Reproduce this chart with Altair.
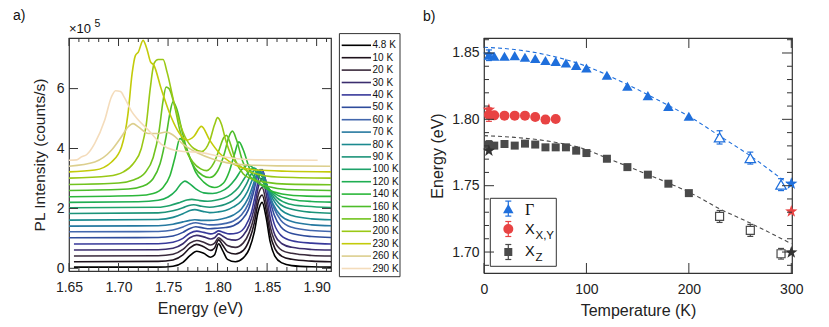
import altair as alt
import pandas as pd

# ---------------- panel a) : PL spectra ----------------
temps = ["4.8 K", "10 K", "20 K", "30 K", "40 K", "50 K", "60 K", "70 K", "80 K", "90 K",
         "100 K", "120 K", "140 K", "160 K", "180 K", "200 K", "230 K", "260 K", "290 K"]
line_colors = ["#000000", "#1e121c", "#3a2a3c", "#3b2d6e", "#38399a", "#2f4c9c", "#4267ad",
               "#2679a0", "#1b8a8f", "#1c9379", "#1ea26a", "#1fae52", "#2cb73a", "#4dbd2a",
               "#72c31e", "#9ac815", "#c3cb0a", "#dccf8e", "#f4dcbb"]

# (energy eV, PL intensity x1e5), offsets included
sp_4p8 = [[1.655, 0.04], [1.74, 0.04], [1.755, 0.07], [1.765, 0.2], [1.772, 0.42], [1.779, 0.57],
          [1.786, 0.5], [1.793, 0.37], [1.797, 0.45], [1.801, 0.82], [1.805, 0.6], [1.81, 0.3],
          [1.818, 0.22], [1.826, 0.35], [1.832, 0.65], [1.837, 1.2], [1.841, 1.9], [1.845, 2.2],
          [1.849, 1.7], [1.853, 0.9], [1.858, 0.4], [1.865, 0.18], [1.875, 0.09], [1.895, 0.05],
          [1.915, 0.04]]
sp_10 = [[1.655, 0.22], [1.74, 0.23], [1.755, 0.28], [1.765, 0.45], [1.772, 0.68], [1.779, 0.8],
         [1.786, 0.72], [1.793, 0.6], [1.797, 0.68], [1.801, 0.95], [1.805, 0.78], [1.81, 0.55],
         [1.818, 0.48], [1.826, 0.6], [1.832, 0.95], [1.837, 1.5], [1.841, 2.2], [1.845, 2.45],
         [1.849, 1.95], [1.853, 1.15], [1.858, 0.65], [1.865, 0.4], [1.875, 0.3], [1.895, 0.24],
         [1.915, 0.22]]
sp_20 = [[1.655, 0.41], [1.74, 0.42], [1.755, 0.47], [1.765, 0.63], [1.772, 0.84], [1.779, 0.93],
         [1.786, 0.87], [1.793, 0.78], [1.797, 0.84], [1.801, 1.02], [1.805, 0.92], [1.81, 0.76],
         [1.818, 0.7], [1.826, 0.85], [1.832, 1.2], [1.837, 1.75], [1.841, 2.45], [1.845, 2.7],
         [1.849, 2.2], [1.853, 1.4], [1.858, 0.88], [1.865, 0.6], [1.875, 0.5], [1.895, 0.43],
         [1.915, 0.41]]
sp_30 = [[1.655, 0.61], [1.74, 0.62], [1.755, 0.67], [1.765, 0.82], [1.772, 1.02], [1.779, 1.1],
         [1.786, 1.05], [1.793, 0.98], [1.797, 1.02], [1.801, 1.15], [1.805, 1.08], [1.81, 0.98],
         [1.818, 0.94], [1.826, 1.1], [1.832, 1.45], [1.837, 2.0], [1.841, 2.7], [1.845, 3.0],
         [1.849, 2.5], [1.853, 1.7], [1.858, 1.1], [1.865, 0.82], [1.875, 0.7], [1.895, 0.63],
         [1.915, 0.61]]
sp_40 = [[1.655, 0.81], [1.74, 0.82], [1.755, 0.87], [1.765, 1.0], [1.772, 1.17], [1.779, 1.24],
         [1.786, 1.2], [1.793, 1.15], [1.797, 1.18], [1.801, 1.25], [1.806, 1.2], [1.812, 1.15],
         [1.82, 1.18], [1.828, 1.4], [1.834, 1.85], [1.839, 2.6], [1.843, 3.2], [1.845, 3.3],
         [1.848, 3.0], [1.852, 2.2], [1.857, 1.5], [1.864, 1.1], [1.875, 0.92], [1.895, 0.84],
         [1.915, 0.81]]
sp_50 = [[1.65, 1.02], [1.74, 1.03], [1.755, 1.08], [1.765, 1.2], [1.772, 1.33], [1.778, 1.39],
         [1.785, 1.35], [1.792, 1.32], [1.8, 1.34], [1.808, 1.36], [1.816, 1.42], [1.824, 1.6],
         [1.831, 1.95], [1.836, 2.5], [1.84, 3.05], [1.844, 3.3], [1.848, 3.0], [1.852, 2.4],
         [1.857, 1.8], [1.864, 1.38], [1.875, 1.16], [1.895, 1.06], [1.915, 1.03]]
sp_60 = [[1.65, 1.22], [1.74, 1.23], [1.755, 1.28], [1.765, 1.38], [1.772, 1.48], [1.778, 1.52],
         [1.785, 1.48], [1.792, 1.45], [1.8, 1.46], [1.808, 1.5], [1.816, 1.58], [1.824, 1.78],
         [1.831, 2.15], [1.836, 2.65], [1.84, 3.1], [1.843, 3.3], [1.847, 3.1], [1.851, 2.6],
         [1.857, 2.0], [1.864, 1.6], [1.875, 1.37], [1.895, 1.26], [1.915, 1.23]]
sp_70 = [[1.65, 1.41], [1.74, 1.42], [1.755, 1.47], [1.765, 1.55], [1.772, 1.6], [1.777, 1.62],
         [1.785, 1.6], [1.792, 1.6], [1.8, 1.62], [1.808, 1.68], [1.816, 1.78], [1.824, 1.98],
         [1.831, 2.35], [1.836, 2.8], [1.839, 3.1], [1.842, 3.25], [1.846, 3.1], [1.85, 2.7],
         [1.856, 2.15], [1.864, 1.75], [1.875, 1.56], [1.895, 1.45], [1.915, 1.42]]
sp_80 = [[1.65, 1.61], [1.74, 1.63], [1.755, 1.7], [1.765, 1.82], [1.772, 1.93], [1.777, 1.96],
         [1.785, 1.9], [1.792, 1.86], [1.8, 1.88], [1.808, 1.93], [1.816, 2.05], [1.824, 2.25],
         [1.83, 2.55], [1.835, 2.95], [1.838, 3.15], [1.841, 3.25], [1.845, 3.1], [1.85, 2.75],
         [1.856, 2.3], [1.864, 1.95], [1.875, 1.76], [1.895, 1.65], [1.915, 1.62]]
sp_90 = [[1.65, 1.83], [1.74, 1.85], [1.755, 1.92], [1.765, 2.02], [1.771, 2.1], [1.776, 2.12],
         [1.784, 2.07], [1.792, 2.04], [1.8, 2.07], [1.808, 2.14], [1.816, 2.27], [1.823, 2.48],
         [1.829, 2.8], [1.834, 3.15], [1.839, 3.3], [1.843, 3.2], [1.848, 2.9], [1.854, 2.5],
         [1.862, 2.17], [1.875, 1.97], [1.895, 1.87], [1.915, 1.84]]
sp_100 = [[1.65, 2.02], [1.74, 2.04], [1.752, 2.1], [1.762, 2.2], [1.769, 2.28], [1.774, 2.3],
          [1.782, 2.26], [1.79, 2.24], [1.798, 2.27], [1.806, 2.34], [1.814, 2.48], [1.821, 2.7],
          [1.827, 3.0], [1.832, 3.25], [1.837, 3.35], [1.841, 3.25], [1.846, 3.0], [1.852, 2.65],
          [1.86, 2.35], [1.872, 2.15], [1.89, 2.07], [1.915, 2.03]]
sp_120 = [[1.65, 2.2], [1.72, 2.22], [1.74, 2.27], [1.75, 2.38], [1.758, 2.6], [1.763, 2.82],
          [1.767, 2.91], [1.772, 2.82], [1.778, 2.65], [1.786, 2.52], [1.795, 2.5], [1.803, 2.56],
          [1.811, 2.72], [1.818, 2.98], [1.824, 3.28], [1.831, 3.45], [1.836, 3.35], [1.842, 3.05],
          [1.85, 2.7], [1.86, 2.45], [1.875, 2.3], [1.895, 2.23], [1.915, 2.21]]
sp_140 = [[1.65, 2.39], [1.72, 2.43], [1.735, 2.5], [1.745, 2.7], [1.752, 3.1], [1.757, 3.7],
          [1.762, 4.33], [1.767, 4.15], [1.772, 3.7], [1.778, 3.2], [1.786, 2.88], [1.797, 2.7],
          [1.806, 2.85], [1.812, 3.25], [1.817, 3.8], [1.8215, 4.22], [1.826, 3.95], [1.832, 3.35],
          [1.84, 2.9], [1.85, 2.65], [1.865, 2.48], [1.89, 2.41], [1.915, 2.4]]
sp_160 = [[1.65, 2.6], [1.71, 2.65], [1.725, 2.75], [1.735, 3.0], [1.742, 3.5], [1.748, 4.4],
          [1.752, 5.2], [1.755, 5.56], [1.759, 5.3], [1.764, 4.6], [1.77, 3.85], [1.777, 3.35],
          [1.785, 3.1], [1.792, 3.03], [1.8, 3.25], [1.807, 3.85], [1.811, 4.35], [1.815, 4.58],
          [1.819, 4.3], [1.825, 3.6], [1.832, 3.1], [1.84, 2.88], [1.852, 2.72], [1.87, 2.63],
          [1.915, 2.6]]
sp_180 = [[1.65, 2.8], [1.7, 2.85], [1.715, 2.95], [1.727, 3.2], [1.735, 3.7], [1.741, 4.6],
          [1.745, 5.6], [1.748, 6.05], [1.751, 6.0], [1.756, 5.5], [1.762, 4.6], [1.768, 3.95],
          [1.775, 3.55], [1.783, 3.32], [1.789, 3.26], [1.796, 3.5], [1.802, 4.0], [1.806, 4.35],
          [1.809, 4.44], [1.813, 4.15], [1.818, 3.6], [1.826, 3.15], [1.835, 2.98], [1.85, 2.87],
          [1.87, 2.81], [1.915, 2.79]]
sp_200 = [[1.65, 3.01], [1.69, 3.08], [1.705, 3.22], [1.715, 3.5], [1.723, 4.0], [1.728, 4.8],
          [1.732, 6.0], [1.736, 6.85], [1.74, 6.97], [1.745, 6.97], [1.749, 6.55], [1.757, 5.4],
          [1.767, 4.4], [1.776, 4.0], [1.784, 3.9], [1.792, 4.25], [1.797, 4.8], [1.8, 5.03],
          [1.804, 4.8], [1.808, 4.3], [1.814, 3.75], [1.824, 3.38], [1.84, 3.15], [1.86, 3.05],
          [1.915, 3.01]]
sp_230 = [[1.65, 3.22], [1.676, 3.28], [1.693, 3.55], [1.703, 4.05], [1.7096, 5.17], [1.7137, 6.5],
          [1.717, 7.1], [1.72, 7.22], [1.7248, 7.61], [1.729, 7.28], [1.7323, 6.89], [1.7357, 6.78],
          [1.743, 6.0], [1.753, 5.06], [1.7616, 4.5], [1.769, 4.28], [1.776, 4.4], [1.7837, 4.74],
          [1.792, 4.28], [1.802, 3.84], [1.812, 3.56], [1.822, 3.39], [1.84, 3.28], [1.87, 3.24],
          [1.915, 3.22]]
sp_260 = [[1.65, 3.41], [1.676, 3.55], [1.6928, 3.94], [1.7029, 4.39], [1.7096, 4.72],
          [1.7147, 4.83], [1.72, 4.72], [1.73, 4.5], [1.74, 4.5], [1.748, 4.55], [1.755, 4.45],
          [1.765, 4.15], [1.78, 3.85], [1.795, 3.65], [1.81, 3.52], [1.83, 3.45], [1.86, 3.42],
          [1.915, 3.41]]
sp_290 = [[1.65, 3.61], [1.658, 3.62], [1.6625, 3.72], [1.668, 3.8], [1.676, 4.17], [1.686, 4.94],
          [1.6928, 5.72], [1.697, 5.93], [1.702, 5.9], [1.706, 5.7], [1.713, 5.25], [1.72, 4.95],
          [1.73, 4.62], [1.743, 4.15], [1.7566, 3.94], [1.77, 3.89], [1.78, 3.88], [1.8, 3.75],
          [1.82, 3.66], [1.84, 3.62], [1.901, 3.61]]
spectra = [sp_4p8, sp_10, sp_20, sp_30, sp_40, sp_50, sp_60, sp_70, sp_80, sp_90, sp_100,
           sp_120, sp_140, sp_160, sp_180, sp_200, sp_230, sp_260, sp_290]

a_x_major = [1.65, 1.70, 1.75, 1.80, 1.85, 1.90]
a_x_minor = [1.66, 1.67, 1.68, 1.69, 1.71, 1.72, 1.73, 1.74, 1.76, 1.77, 1.78, 1.79,
             1.81, 1.82, 1.83, 1.84, 1.86, 1.87, 1.88, 1.89, 1.91]
a_y_major = [0, 2, 4, 6]

# ---------------- panel b) : peak energies ----------------
gam_T = [4.8, 10, 20, 30, 40, 50, 60, 70, 80, 90, 100, 120, 140, 160, 180, 200]
gam_E = [1.8483, 1.8475, 1.8475, 1.848, 1.8468, 1.8458, 1.8443, 1.8437, 1.8425, 1.8407,
         1.8387, 1.8332, 1.8249, 1.8179, 1.8098, 1.8023]
gam_open_T = [230, 260, 290]
gam_open_E = [1.7864, 1.7708, 1.7508]
gam_star_T = [4.8, 300]
gam_star_E = [1.8487, 1.7515]
gam_err_T = [4.8, 230, 260, 290]
gam_err_E = [1.8483, 1.7864, 1.7708, 1.7508]
gam_err = [0.004, 0.005, 0.0045, 0.0045]
xy_T = [4.8, 10, 20, 30, 40, 50, 60, 70]
xy_E = [1.8035, 1.803, 1.8028, 1.8028, 1.8028, 1.8017, 1.7998, 1.8002]
xy_star_T = [4.8, 300]
xy_star_E = [1.8073, 1.7306]
xy_err_T = [4.8]
xy_err_E = [1.8035]
xy_err = [0.005]
z_T = [4.8, 10, 20, 30, 40, 50, 60, 70, 80, 90, 100, 120, 140, 160, 180, 200]
z_E = [1.7809, 1.7802, 1.7814, 1.7802, 1.7817, 1.781, 1.7789, 1.7789, 1.7789, 1.7764,
       1.7746, 1.7703, 1.764, 1.7583, 1.7515, 1.7444]
z_open_T = [230, 260, 290]
z_open_E = [1.7268, 1.7163, 1.6987]
z_star_T = [4.8, 300]
z_star_E = [1.7764, 1.6997]
z_err_T = [4.8, 230, 260, 290]
z_err_E = [1.7809, 1.7268, 1.7163, 1.6987]
z_err = [0.003, 0.0045, 0.0045, 0.004]
fitG_T = [0, 30, 60, 100, 140, 180, 200, 230, 260, 290, 300]
fitG_E = [1.8543, 1.8526, 1.8488, 1.840, 1.8262, 1.8105, 1.8023, 1.7875, 1.7725, 1.7555, 1.750]
fitZ_T = [0, 30, 60, 100, 120, 140, 180, 200, 230, 260, 300]
fitZ_E = [1.7877, 1.7864, 1.7839, 1.7771, 1.7708, 1.7646, 1.752, 1.7452, 1.7326, 1.7218, 1.7063]
b_x_major = [0, 100, 200, 300]
b_y_major = [1.70, 1.75, 1.80, 1.85]
b_y_minor = [1.69, 1.71, 1.72, 1.73, 1.74, 1.76, 1.77, 1.78, 1.79, 1.81, 1.82, 1.83, 1.84, 1.86]

FONT = "Liberation Sans"
BLUE, RED, GRAY = "#1f6fdc", "#e84343", "#4a4a4a"
TICK = "#333333"
STAR = ("M0,-1L0.235,-0.324L0.951,-0.309L0.38,0.124L0.588,0.809L0,0.4L-0.588,0.809"
        "L-0.38,0.124L-0.951,-0.309L-0.235,-0.324Z")

# ======================= panel a =======================
WA, HA = 262, 233
XA0, XA1 = 1.65, 1.9145
YA0, YA1 = -0.09, 7.69
pxa = (XA1 - XA0) / WA   # eV per pixel
pya = (YA1 - YA0) / HA   # intensity units per pixel

rows = []
for lab, pts in zip(temps, spectra):
    for e, v in pts:
        rows.append({"T": lab, "E": e, "I": v})
df_spec = pd.DataFrame(rows)

xa_scale = alt.Scale(domain=[XA0, XA1], nice=False, zero=False)
ya_scale = alt.Scale(domain=[YA0, YA1], nice=False, zero=False)
col_a = alt.Scale(domain=temps, range=line_colors)
xa_axis = alt.Axis(values=a_x_major, format=".2f", title="Energy (eV)", labelFontSize=14,
                   titleFontSize=16, labelPadding=9, titlePadding=6, labelFlush=False)
ya_axis = alt.Axis(values=a_y_major, format="d", title="PL Intensity (counts/s)",
                   labelFontSize=14, titleFontSize=15.5, labelPadding=5, titlePadding=9)


def ax(f):
    return alt.X(f, type="quantitative", scale=xa_scale, axis=xa_axis)


def ay(f):
    return alt.Y(f, type="quantitative", scale=ya_scale, axis=ya_axis)


lines = alt.Chart(df_spec).mark_line(strokeWidth=1.6, interpolate="monotone", clip=True).encode(
    x=ax("E"), y=ay("I"), color=alt.Color("T:N", scale=col_a, legend=None))


def vrules(vals, a, b, xf, yf):
    d = pd.DataFrame({"v": vals, "a": [a] * len(vals), "b": [b] * len(vals)})
    return alt.Chart(d).mark_rule(color=TICK, strokeWidth=1).encode(x=xf("v"), y=yf("a"), y2="b")


def hrules(vals, a, b, xf, yf):
    d = pd.DataFrame({"v": vals, "a": [a] * len(vals), "b": [b] * len(vals)})
    return alt.Chart(d).mark_rule(color=TICK, strokeWidth=1).encode(y=yf("v"), x=xf("a"), x2="b")


a_ticks = [
    vrules(a_x_major, YA0, YA0 + 8 * pya, ax, ay),
    vrules(a_x_major, YA1, YA1 - 8 * pya, ax, ay),
    vrules(a_x_minor, YA0, YA0 + 4 * pya, ax, ay),
    vrules(a_x_minor, YA1, YA1 - 4 * pya, ax, ay),
    hrules(a_y_major, XA0, XA0 + 9 * pxa, ax, ay),
    hrules(a_y_major, XA1, XA1 - 9 * pxa, ax, ay),
]

# legend of panel a, drawn outside the plot area (right)
leg_top = YA1 - 7.3 * pya
leg_step = 12.4 * pya
df_la = pd.DataFrame({
    "T": temps,
    "y": [leg_top - i * leg_step for i in range(len(temps))],
    "x0": XA1 + 10.7 * pxa, "x1": XA1 + 40.0 * pxa, "xt": XA1 + 41.5 * pxa,
})
leg_a = [
    alt.Chart(df_la).mark_rule(strokeWidth=1.6).encode(
        x=ax("x0"), x2="x1", y=ay("y"), color=alt.Color("T:N", scale=col_a, legend=None)),
    alt.Chart(df_la).mark_text(align="left", baseline="middle", fontSize=10, font=FONT,
                               color="#111").encode(x=ax("xt"), y=ay("y"), text="T:N"),
]
bx0, bx1 = XA1 + 8.4 * pxa, XA1 + 69.0 * pxa
by0, by1 = YA1 + 4.4 * pya, YA0 - 5.7 * pya
leg_a += [
    hrules([by0, by1], bx0, bx1, ax, ay),
    vrules([bx0, bx1], by0, by1, ax, ay),
]

df_ta = pd.DataFrame({"x": [XA0, XA0 + 25.5 * pxa, XA0 - 56 * pxa],
                      "y": [YA1 + 4.7 * pya, YA1 + 11 * pya, YA1 + 17.7 * pya],
                      "t": ["×10", "5", "a)"]})
texts_a = [
    alt.Chart(df_ta.iloc[[0]]).mark_text(align="left", baseline="alphabetic", fontSize=13, font=FONT,
                                         color="#111").encode(x=ax("x"), y=ay("y"), text="t:N"),
    alt.Chart(df_ta.iloc[[1]]).mark_text(align="left", baseline="alphabetic", fontSize=10.5, font=FONT,
                                         color="#111").encode(x=ax("x"), y=ay("y"), text="t:N"),
    alt.Chart(df_ta.iloc[[2]]).mark_text(align="left", baseline="alphabetic", fontSize=14, font=FONT,
                                         color="#111").encode(x=ax("x"), y=ay("y"), text="t:N"),
]

panel_a = alt.layer(lines, *a_ticks, *leg_a, *texts_a).properties(width=WA, height=HA)

# ======================= panel b =======================
WB, HB = 308, 235
XB0, XB1 = 0.0, 300.7
YB0, YB1 = 1.6842, 1.8613
pxb = (XB1 - XB0) / WB
pyb = (YB1 - YB0) / HB

xb_scale = alt.Scale(domain=[XB0, XB1], nice=False, zero=False)
yb_scale = alt.Scale(domain=[YB0, YB1], nice=False, zero=False)
xb_axis = alt.Axis(values=b_x_major, format="d", title="Temperature (K)", labelFontSize=14,
                   titleFontSize=16, labelPadding=9, titlePadding=6, labelFlush=False)
yb_axis = alt.Axis(values=b_y_major, format=".2f", title="Energy (eV)", labelFontSize=14,
                   titleFontSize=16, labelPadding=5, titlePadding=6)


def bx(f):
    return alt.X(f, type="quantitative", scale=xb_scale, axis=xb_axis)


def by(f):
    return alt.Y(f, type="quantitative", scale=yb_scale, axis=yb_axis)


def line_b(T, E, c):
    d = pd.DataFrame({"T": T, "E": E})
    return alt.Chart(d).mark_line(color=c, strokeDash=[4, 3], strokeWidth=1.1,
                                  interpolate="monotone").encode(x=bx("T"), y=by("E"))


def errbars(T, E, err, c, cap=3.0):
    d = pd.DataFrame({"T": T, "lo": [e - s for e, s in zip(E, err)],
                      "hi": [e + s for e, s in zip(E, err)]})
    d["t0"] = d["T"] - cap * pxb
    d["t1"] = d["T"] + cap * pxb
    return [
        alt.Chart(d).mark_rule(color=c, strokeWidth=1.2).encode(x=bx("T"), y=by("lo"), y2="hi"),
        alt.Chart(d).mark_rule(color=c, strokeWidth=1.2).encode(x=bx("t0"), x2="t1", y=by("lo")),
        alt.Chart(d).mark_rule(color=c, strokeWidth=1.2).encode(x=bx("t0"), x2="t1", y=by("hi")),
    ]


def pts_b(T, E, shape, size, c, hollow=False):
    d = pd.DataFrame({"T": T, "E": E})
    if hollow:
        m = alt.Chart(d).mark_point(shape=shape, size=size, filled=True, fill="white", stroke=c,
                                    strokeWidth=1.2, opacity=1)
    else:
        m = alt.Chart(d).mark_point(shape=shape, size=size, filled=True, color=c, opacity=1)
    return m.encode(x=bx("T"), y=by("E"))


layers_b = [line_b(fitG_T, fitG_E, BLUE), line_b(fitZ_T, fitZ_E, GRAY)]
layers_b += errbars(gam_err_T, gam_err_E, gam_err, BLUE)
layers_b += errbars(xy_err_T, xy_err_E, xy_err, RED)
layers_b += errbars(z_err_T, z_err_E, z_err, GRAY)
layers_b += [
    pts_b(xy_T, xy_E, "circle", 100, RED),
    pts_b(z_T, z_E, "square", 64, GRAY),
    pts_b(z_open_T, z_open_E, "square", 64, GRAY, hollow=True),
    pts_b(gam_T, gam_E, "triangle-up", 110, BLUE),
    pts_b(gam_open_T, gam_open_E, "triangle-up", 110, BLUE, hollow=True),
    pts_b(gam_star_T, gam_star_E, STAR, 170, BLUE),
    pts_b(xy_star_T, xy_star_E, STAR, 170, RED),
    pts_b(z_star_T, z_star_E, STAR, 170, "#333333"),
]

b_ticks = [
    vrules(b_x_major, YB0, YB0 + 10 * pyb, bx, by),
    vrules(b_x_major, YB1, YB1 - 10 * pyb, bx, by),
    hrules(b_y_major, XB0, XB0 + 10 * pxb, bx, by),
    hrules(b_y_major, XB1, XB1 - 10 * pxb, bx, by),
    hrules(b_y_minor, XB0, XB0 + 5 * pxb, bx, by),
    hrules(b_y_minor, XB1, XB1 - 5 * pxb, bx, by),
]


def py(p):
    return YB1 - p * pyb


def px(p):
    return XB0 + p * pxb


# legend of panel b (with subscripts), lower-left corner
leg_b = [
    hrules([py(160.3), py(228.3)], px(6.3), px(72.3), bx, by),
    vrules([px(6.3), px(72.3)], py(160.3), py(228.3), bx, by),
]
leg_rows_y = [170.6, 191.0, 214.0]
leg_shapes = ["triangle-up", "circle", "square"]
leg_sizes = [110, 100, 64]
leg_cols = [BLUE, RED, GRAY]
for yy, shp, sz, c in zip(leg_rows_y, leg_shapes, leg_sizes, leg_cols):
    leg_b += errbars([px(24.3)], [py(yy)], [7.5 * pyb], c)
    leg_b.append(pts_b([px(24.3)], [py(yy)], shp, sz, c))

df_lt = pd.DataFrame({
    "x": [px(41), px(41), px(51.5), px(41), px(51.5), px(-61)],
    "y": [py(171.6), py(191.5), py(197.5), py(213.8), py(220), py(-16.7)],
    "t": ["Γ", "X", "X,Y", "X", "Z", "b)"],
})
leg_b += [
    alt.Chart(df_lt.iloc[[0]]).mark_text(font="Liberation Serif", fontSize=16, align="left",
                                         baseline="middle", color="#111").encode(
        x=bx("x"), y=by("y"), text="t:N"),
    alt.Chart(df_lt.iloc[[1, 3]]).mark_text(font=FONT, fontSize=14.5, align="left",
                                            baseline="middle", color="#111").encode(
        x=bx("x"), y=by("y"), text="t:N"),
    alt.Chart(df_lt.iloc[[2, 4]]).mark_text(font=FONT, fontSize=11.5, align="left",
                                            baseline="middle", color="#111").encode(
        x=bx("x"), y=by("y"), text="t:N"),
    alt.Chart(df_lt.iloc[[5]]).mark_text(font=FONT, fontSize=14, align="left",
                                         baseline="alphabetic", color="#111").encode(
        x=bx("x"), y=by("y"), text="t:N"),
]

panel_b = alt.layer(*layers_b, *b_ticks, *leg_b).properties(width=WB, height=HB)

chart = alt.hconcat(panel_a, panel_b, spacing=20).properties(
    padding={"left": 4, "top": 0, "right": 0, "bottom": 0}
).configure_view(stroke="#333333", strokeWidth=1.2).configure_axis(
    domain=False, ticks=False, grid=False, labelFont=FONT, titleFont=FONT,
    labelColor="#222222", titleColor="#222222", titleFontWeight="normal"
)

chart.save("out.html", embed_options={"renderer": "svg", "actions": False})
